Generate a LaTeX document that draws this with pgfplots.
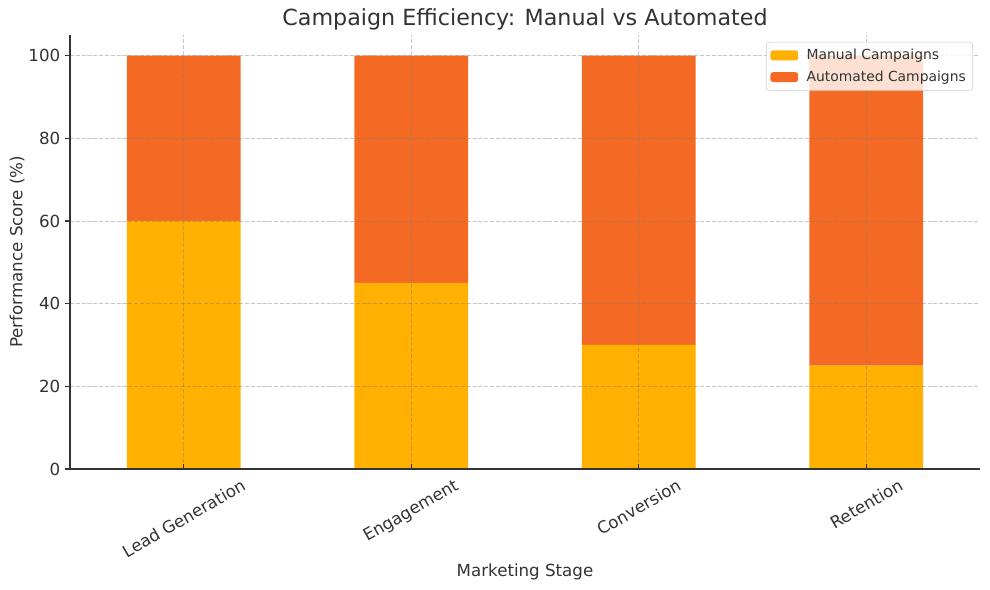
\documentclass[border=0pt]{standalone}
\usepackage{fontspec}
\setmainfont{DejaVu Sans}
\usepackage{graphicx}
\usepackage{pgfplots}
\pgfplotsset{compat=1.18}
\definecolor{manual}{HTML}{FFB000}
\definecolor{autoc}{HTML}{F46A24}
\definecolor{txt}{HTML}{333333}
\begin{document}
\begin{tikzpicture}
\path[use as bounding box] (-50.4pt,-87.12pt) rectangle (662.4pt,337.68pt);
\begin{axis}[
  at={(0,0)}, anchor=south west,
  scale only axis, width=655.2pt, height=312.48pt,
  ybar stacked, bar width=0.5,
  xmin=-0.5, xmax=3.5, ymin=0, ymax=105,
  xtick={0,1,2,3},
  xticklabels={\rotatebox{30}{Lead Generation},\rotatebox{30}{Engagement},\rotatebox{30}{Conversion},\rotatebox{30}{Retention}},
  ytick={0,20,40,60,80,100},
  axis x line*=bottom, axis y line*=left,
  axis line style={color=txt, line width=0.9pt},
  axis on top=true,
  tick align=outside,
  major tick length=3.5pt,
  tick style={color=txt, line width=0.8pt},
  xtick style={yshift=3.5pt},
  grid=major,
  major grid style={gray, opacity=0.45, line width=0.6pt, dash pattern=on 2.9pt off 1.3pt},
  /pgf/number format/assume math mode=true,
  ticklabel style={font=\fontsize{12}{14}\selectfont, text=txt},
  xticklabel style={anchor=north, inner sep=0pt},
  xticklabel shift=3pt,
  title={Campaign Efficiency: Manual vs Automated},
  title style={font=\fontsize{16}{18}\selectfont, text=txt, at={(axis description cs:0.5,1.0184)}, anchor=base, yshift=-5pt},
  xlabel={Marketing Stage},
  xlabel style={font=\fontsize{12}{14}\selectfont, text=txt, at={(axis description cs:0.5,-0.238)}, anchor=center},
  ylabel={Performance Score (\%)},
  ylabel style={font=\fontsize{12}{14}\selectfont, text=txt, at={(axis description cs:-0.058,0.5)}, anchor=center},
  legend style={at={(axis description cs:1,1)}, anchor=north east, xshift=-5pt, yshift=-5pt,
    fill=white, fill opacity=0.8, text opacity=1, draw=black!20, rounded corners=2pt,
    font=\fontsize{10}{12}\selectfont, text=txt, row sep=2.5pt, inner sep=3pt},
  legend cell align=left,
  legend image code/.code={\fill[#1, fill opacity=1] (-2pt,-3.6pt) rectangle (18pt,3.6pt);},
]
\addplot[fill=manual, draw=none] coordinates {(0,60) (1,45) (2,30) (3,25)};
\addplot[fill=autoc, draw=none] coordinates {(0,40) (1,55) (2,70) (3,75)};
\legend{\hspace{4pt}Manual Campaigns, \hspace{4pt}Automated Campaigns}
\end{axis}
\end{tikzpicture}
\end{document}
